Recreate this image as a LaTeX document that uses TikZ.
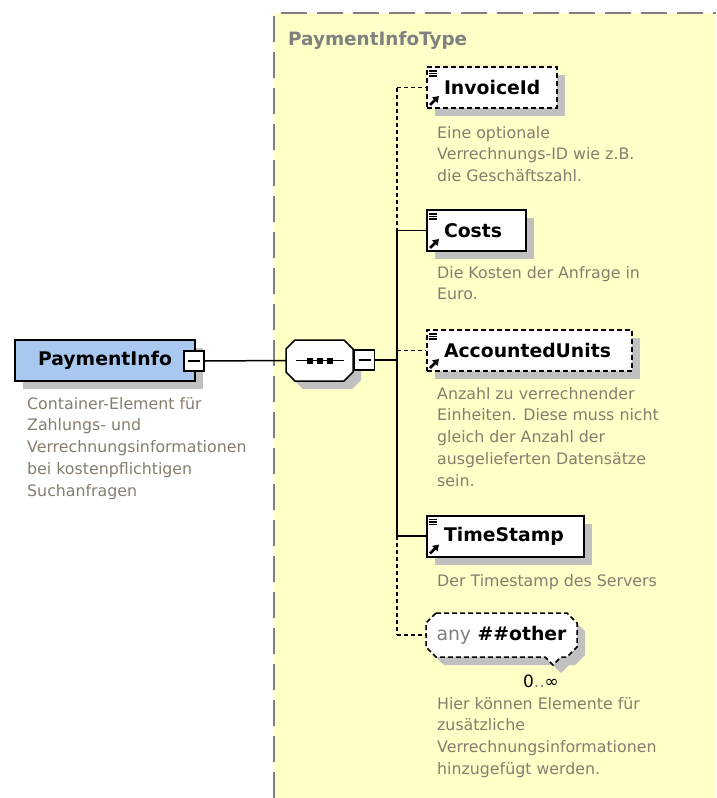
\documentclass[tikz,border=0pt]{standalone}
\usepackage{fontspec}
\setmainfont{DejaVu Sans}
\usetikzlibrary{shadows,arrows.meta}
\definecolor{frameyellow}{RGB}{255,255,200}
\definecolor{descgray}{RGB}{135,125,110}
\definecolor{titlegray}{RGB}{128,128,128}
\definecolor{boxblue}{RGB}{168,200,240}
\definecolor{shadowgray}{RGB}{192,192,192}
\tikzset{
  myshadow/.style={drop shadow={shadow xshift=8pt,shadow yshift=-8pt,fill=shadowgray,opacity=1}},
  elem/.style={draw=black,line width=2pt,fill=white,anchor=west,minimum height=41pt,
    inner xsep=17pt,inner ysep=0pt,text width=#1,align=left,
    font=\fontsize{18.8}{20}\selectfont\bfseries,myshadow},
  optdash/.style={dash pattern=on 5pt off 3pt},
  desc/.style={anchor=north west,inner sep=0pt,align=left,text=descgray,
    font=\fontsize{15.8}{21.7}\selectfont},
  conn/.style={line width=1.5pt},
  optconn/.style={line width=1.3pt,dash pattern=on 4pt off 3pt},
  minusbox/.style={draw,line width=1.3pt,fill=white,minimum size=20pt,inner sep=0pt},
  framedash/.style={draw=titlegray,line width=2pt,dash pattern=on 26pt off 10pt},
  titletext/.style={anchor=west,inner sep=0pt,text=titlegray,font=\fontsize{18.4}{20}\selectfont\bfseries},
  rootbox/.style={draw=black,line width=2.5pt,fill=boxblue,minimum width=180pt,minimum height=41pt,
    inner sep=0pt,font=\fontsize{18.8}{20}\selectfont\bfseries,myshadow},
  shapeline/.style={draw=black,line width=1.5pt,fill=white},
  ghost/.style={inner sep=0pt,outer sep=0pt},
  seqdot/.style={fill=black,minimum size=6pt,inner sep=0pt},
}
% octagon path from (x1,y1) to (x2,y2) with chamfer c
\newcommand{\octxy}[5]{({#1+#5},#2) -- ({#3-#5},#2) -- (#3,{#2+#5}) -- (#3,{#4-#5}) -- ({#3-#5},#4) -- ({#1+#5},#4) -- (#1,{#4-#5}) -- (#1,{#2+#5}) -- cycle}
% any-shape with a small notch at the bottom
\newcommand{\anyxy}[2]{({436+#1},{613+#2}) -- ({567+#1},{613+#2}) -- ({577+#1},{623+#2}) -- ({577+#1},{647+#2}) -- ({567+#1},{657+#2}) -- ({561+#1},{657+#2}) -- ({553+#1},{665+#2}) -- ({545+#1},{657+#2}) -- ({436+#1},{657+#2}) -- ({426+#1},{647+#2}) -- ({426+#1},{623+#2}) -- cycle}
\newcommand{\elicons}[1]{%
  \foreach \dy in {5,7.5,10}{\draw[line width=1.1pt] ([xshift=3pt,yshift=-\dy pt]#1.north west) -- ([xshift=11pt,yshift=-\dy pt]#1.north west);}
  \draw[line width=2.6pt,-{Triangle[length=6pt,width=7.5pt]}] ([xshift=4pt,yshift=4pt]#1.south west) -- ([xshift=13pt,yshift=13pt]#1.south west);
}
\begin{document}
\begin{tikzpicture}[x=1pt,y=-1pt]
\useasboundingbox (0,0) rectangle (716,798);
\fill[white] (0,0) rectangle (716,798);
\fill[frameyellow] (274,13) rectangle (716,798);
\draw[framedash] (274,798) -- (274,13) -- (716,13);
\node[titletext] (ttl) at (288,40) {PaymentInfoType};

% root element
\node[rootbox] (pi) at (105,360.5) {PaymentInfo};
\node[minusbox] (pim) at (194,361) {};
\draw[line width=1.2pt] ([xshift=-6pt]pim.center) -- ([xshift=6pt]pim.center);
\node[desc] (pid) at (27,397) {Container-Element für\\Zahlungs- und\\Verrechnungsinformationen\\bei kostenpflichtigen\\Suchanfragen};

% sequence compositor
\fill[shadowgray] \octxy{294}{348}{361}{389}{9};
\draw[shapeline] \octxy{286}{340}{353}{381}{9};
\node[ghost,minimum width=67pt,minimum height=41pt] (seq) at (319.5,360.5) {};
\draw[line width=1.5pt] ([xshift=-24pt]seq.center) -- ([xshift=24pt]seq.center);
\node[seqdot] (sda) at ([xshift=-10pt]seq.center) {};
\node[seqdot] (sdb) at (seq.center) {};
\node[seqdot] (sdc) at ([xshift=10pt]seq.center) {};
\node[minusbox] (sqm) at (364.5,360) {};
\draw[line width=1.2pt] ([xshift=-6pt]sqm.center) -- ([xshift=6pt]sqm.center);

\draw[conn] (pim.east) -- (seq.west);
\coordinate (bs) at (397,360);
\draw[conn] (sqm.east) -- (bs);

% children
\node[elem=96pt,optdash] (inv) at (426,87.5) {InvoiceId};
\node[elem=65pt] (cst) at (426,230.5) {Costs};
\node[elem=171pt,optdash] (acc) at (426,350.5) {AccountedUnits};
\node[elem=123pt] (ts) at (426,536) {TimeStamp};

\fill[shadowgray] \anyxy{8}{8};
\draw[shapeline,optdash] \anyxy{0}{0};
\node[ghost,anchor=west,minimum width=151pt,minimum height=44pt,inner xsep=10pt,
  font=\fontsize{18.8}{20}\selectfont\bfseries] (any) at (426,635) {\textcolor{titlegray}{\mdseries any} \#\#other};
\node[inner sep=0pt,font=\fontsize{17}{18}\selectfont] (mult) at (541,681) {0\textcolor{titlegray}{..}∞};

\elicons{inv}
\elicons{cst}
\elicons{acc}
\elicons{ts}

% bus
\coordinate (b1) at (397,87.5);
\coordinate (b2) at (397,230.5);
\coordinate (b3) at (397,350.5);
\coordinate (b4) at (397,536);
\coordinate (b5) at (397,635);
\draw[optconn] (b1) -- (b2);
\draw[conn] (b2) -- (b4);
\draw[optconn] (b4) -- (b5);
\draw[optconn] (b1) -- (inv.west);
\draw[conn] (b2) -- (cst.west);
\draw[optconn] (b3) -- (acc.west);
\draw[conn] (b4) -- (ts.west);
\draw[optconn] (b5) -- (any.west);

% descriptions
\node[desc] (invd) at (437,126) {Eine optionale\\Verrechnungs-ID wie z.B.\\die Geschäftszahl.};
\node[desc] (cstd) at (437,266) {Die Kosten der Anfrage in\\Euro.};
\node[desc] (accd) at (437,387) {Anzahl zu verrechnender\\Einheiten. Diese muss nicht\\gleich der Anzahl der\\ausgelieferten Datensätze\\sein.};
\node[desc] (tsd) at (437,574) {Der Timestamp des Servers};
\node[desc] (anyd) at (437,697) {Hier können Elemente für\\zusätzliche\\Verrechnungsinformationen\\hinzugefügt werden.};
\end{tikzpicture}
\end{document}
